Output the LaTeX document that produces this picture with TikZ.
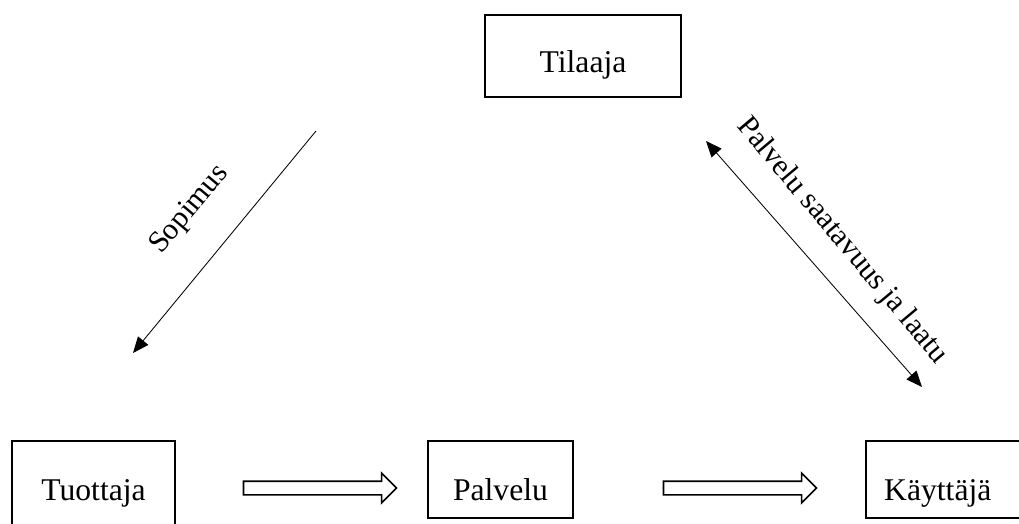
\documentclass[tikz,border=0pt]{standalone}
\usepackage{fontspec}
\setmainfont{Liberation Serif}
\usetikzlibrary{shapes.arrows,arrows.meta}

\tikzset{
  box/.style={draw, line width=1.7pt, inner sep=0pt, font=\fontsize{22.5}{26}\selectfont},
  lowbox/.style={box, minimum height=1.925cm, text height=1.475cm, text depth=0.45cm},
  flow/.style={single arrow, draw, line width=1.2pt, inner sep=0pt, minimum height=3.825cm,
    minimum width=0.7cm, text height=0.3cm, text depth=0pt, single arrow head extend=0.2cm},
  link/.style={line width=0.6pt, >={Triangle[length=0.4cm,width=0.33cm]}},
  lbl/.style={font=\fontsize{21.5}{25}\selectfont}
}

\begin{document}
\begin{tikzpicture}[x=0.025cm, y=-0.025cm]
    \useasboundingbox (0,0) rectangle (1019,524);
    \clip (0,0) rectangle (1019,524);

    % Boxes
    \node[box, minimum width=4.9cm, minimum height=2.05cm, text height=1.425cm, text depth=0.625cm] (tilaaja) at (583,56) {Tilaaja};
    \node[box, minimum width=4.075cm, minimum height=2.275cm, text height=1.475cm, text depth=0.8cm] (tuottaja) at (93.5,486.5) {Tuottaja};
    \node[lowbox, minimum width=3.625cm] (palvelu) at (500.5,479.5) {Palvelu};
    \node[lowbox, anchor=west, text width=3.95cm, inner xsep=0.45cm, align=left] (kayttaja) at (865,479.5) {Käyttäjä};

    % Flow arrows
    \node[flow] (virta1) at (316.5,488) {};
    \node[flow] (virta2) at (736.5,488) {};

    % Contract
    \coordinate (sopA) at (316,131);
    \coordinate (sopB) at (133,353);
    \draw[link, ->] (sopA) -- (sopB);
    \node[lbl, rotate=50] (sopimus) at (190,210) {Sopimus};

    % Availability and quality
    \coordinate (laaA) at (706,141);
    \coordinate (laaB) at (922,387);
    \draw[link, <->] (laaA) -- (laaB);
    \node[lbl, rotate=-50] (laatu) at (842,241) {Palvelu saatavuus ja laatu};
\end{tikzpicture}
\end{document}
